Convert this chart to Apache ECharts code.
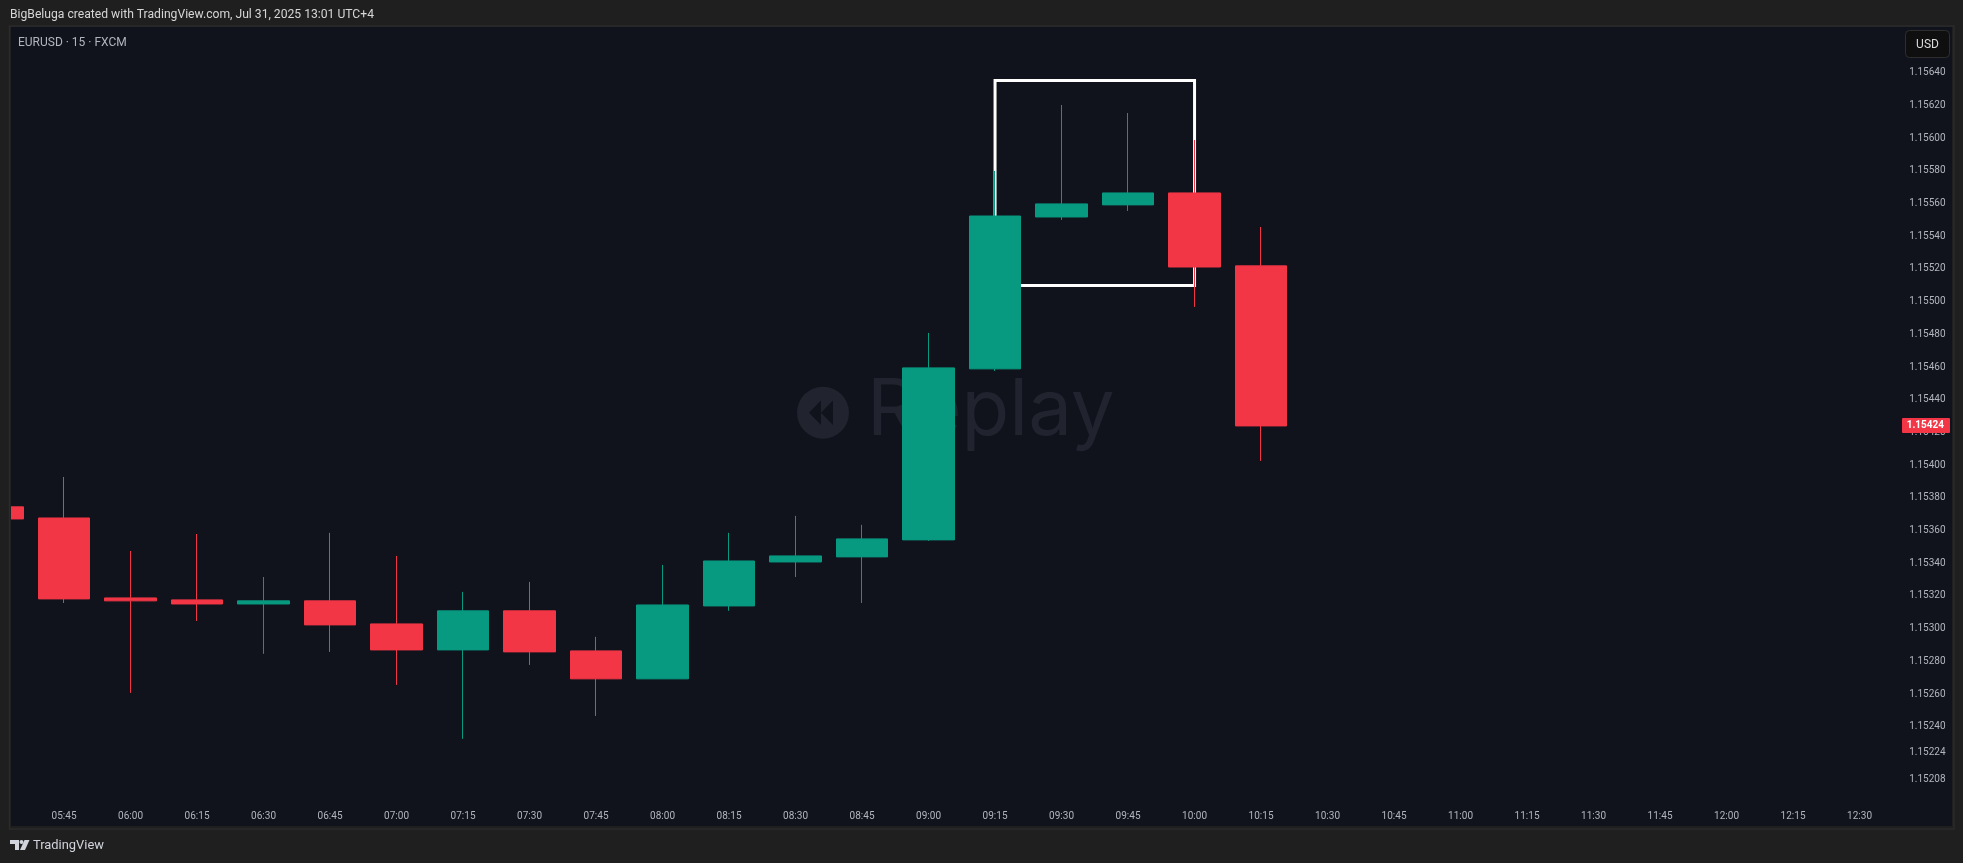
<!DOCTYPE html>
<html>
<head>
<meta charset="utf-8">
<style>html,body{margin:0;padding:0;background:#1f1f1f;overflow:hidden}#c{width:1963px;height:863px}</style>
<script src="https://cdn.jsdelivr.net/npm/echarts@6/dist/echarts.min.js"></script>
</head>
<body>
<div id="c"></div>
<script>
const times = ['05:30','05:45','06:00','06:15','06:30','06:45','07:00','07:15','07:30','07:45','08:00','08:15','08:30','08:45','09:00','09:15','09:30','09:45','10:00','10:15','10:30','10:45','11:00','11:15','11:30','11:45','12:00','12:15','12:30','12:45'];
const opens  = [1.153745,1.153677,1.153188,1.153176,1.153151,1.153170,1.153029,1.152870,1.153109,1.152864,1.152693,1.153139,1.153408,1.153439,1.153543,1.154589,1.155518,1.155592,1.155665,1.155219];
const closes = [1.153671,1.153182,1.153170,1.153151,1.153170,1.153023,1.152870,1.153109,1.152858,1.152693,1.153145,1.153414,1.153445,1.153549,1.154595,1.155524,1.155598,1.155665,1.155212,1.154240];
const lows   = [1.153600,1.153157,1.152607,1.153047,1.152846,1.152858,1.152656,1.152326,1.152778,1.152466,1.152693,1.153109,1.153316,1.153157,1.153537,1.154576,1.155500,1.155555,1.154968,1.154026];
const highs  = [1.153800,1.153928,1.153475,1.153579,1.153316,1.153586,1.153445,1.153225,1.153286,1.152950,1.153390,1.153586,1.153690,1.153635,1.154809,1.155800,1.156203,1.156154,1.155989,1.155457];
const priceTicks = [1.15208,1.15224,1.1524,1.1526,1.1528,1.153,1.1532,1.1534,1.1536,1.1538,1.154,1.1542,1.1544,1.1546,1.1548,1.155,1.1552,1.1554,1.1556,1.1558,1.156,1.1562,1.1564];
const boxTop = 1.156353, boxBottom = 1.155099, boxFrom = '09:15', boxTo = '10:00';
const lastPrice = closes[closes.length-1];
const candles = opens.map((o,i)=>[o,closes[i],lows[i],highs[i]]);

const UP='#089981', DOWN='#F23645', PANE='#10131c', OUTER='#1f1f1f', EDGE='#2b2b2b', WM='#21232e';
const F='Roboto, sans-serif';
const chart = echarts.init(document.getElementById('c'),null,{renderer:'canvas'});
chart.setOption({
  animation:false,
  backgroundColor:OUTER,
  grid:{left:-35.7,width:1995,top:27,height:799,containLabel:false,outerBoundsMode:'none'},
  xAxis:{type:'category',data:times,boundaryGap:true,
    axisLine:{show:false},axisTick:{show:false},splitLine:{show:false},
    axisLabel:{inside:true,margin:5,color:'#b2b5be',fontSize:10,fontFamily:F,
      interval:(i)=>i>0&&i<times.length-1}},
  yAxis:{type:'value',position:'right',min:1.151793,max:1.15668,scale:true,
    axisLine:{show:false},axisTick:{show:false},splitLine:{show:false},
    axisLabel:{inside:true,margin:13.8,color:'#b2b5be',fontSize:10,fontFamily:F,
      customValues:priceTicks,padding:[0,0,2,0],formatter:(v)=>v.toFixed(5)}},
  series:[{type:'candlestick',data:candles,barWidth:52,z:3,
    itemStyle:{color:UP,color0:DOWN,borderColor:UP,borderColor0:DOWN,borderWidth:1},
    markArea:{silent:true,z:1,itemStyle:{color:'rgba(0,0,0,0)',borderColor:'#ffffff',borderWidth:3},
      data:[[{xAxis:boxFrom,yAxis:boxTop},{xAxis:boxTo,yAxis:boxBottom}]]}}],
  graphic:[
    {type:'rect',z:-5,shape:{x:11,y:27,width:1941,height:799},style:{fill:PANE},silent:true},
    {type:'circle',z:-4,shape:{cx:823,cy:412.7,r:26},style:{fill:WM},silent:true},
    {type:'polygon',z:-3,shape:{points:[[809,412.7],[821,400.5],[821,425]]},style:{fill:PANE},silent:true},
    {type:'polygon',z:-3,shape:{points:[[821,412.7],[833,400.5],[833,425]]},style:{fill:PANE},silent:true},
    {type:'text',z:-4,x:867,y:412,silent:true,style:{text:'Replay',fill:WM,font:'400 78px Inter, '+F,textVerticalAlign:'middle'}},
    // frame
    {type:'rect',z:50,shape:{x:0,y:0,width:11,height:863},style:{fill:OUTER},silent:true},
    {type:'rect',z:51,shape:{x:9.5,y:26,width:1944.5,height:803},style:{fill:'none',stroke:EDGE,lineWidth:1.5},silent:true},
    {type:'rect',z:50,shape:{x:1954,y:0,width:9,height:863},style:{fill:OUTER},silent:true},
    // header
    {type:'text',z:60,x:10,y:15,silent:true,style:{text:'BigBeluga created with TradingView.com, Jul 31, 2025 13:01 UTC+4',fill:'#d6d6d6',font:'12.15px '+F,textVerticalAlign:'middle'}},
    {type:'text',z:60,x:18,y:42.5,silent:true,style:{text:'EURUSD · 15 · FXCM',fill:'#b2b5be',font:'12px '+F,textVerticalAlign:'middle'}},
    // USD
    {type:'rect',z:60,shape:{x:1905.5,y:30.5,width:44,height:27,r:4},style:{fill:'#0f0f0f',stroke:'#2e2e2e',lineWidth:1},silent:true},
    {type:'text',z:61,x:1927.5,y:44.5,silent:true,style:{text:'USD',fill:'#dbdbdb',font:'12px '+F,textAlign:'center',textVerticalAlign:'middle'}},
    // logo
    {type:'polygon',z:60,shape:{points:[[10,840],[19,840],[19,850],[15,850],[15,844],[10,844]]},style:{fill:'#d1d4dc'},silent:true},
    {type:'circle',z:60,shape:{cx:21.5,cy:842,r:2},style:{fill:'#d1d4dc'},silent:true},
    {type:'polygon',z:60,shape:{points:[[24.5,840],[29.5,840],[25,850],[20,850]]},style:{fill:'#d1d4dc'},silent:true},
    {type:'text',z:60,x:33,y:846,silent:true,style:{text:'TradingView',fill:'#d1d4dc',font:'12.9px '+F,textVerticalAlign:'middle'}}
  ]
});
const tagY = chart.convertToPixel({yAxisIndex:0}, lastPrice) - 1;
chart.setOption({graphic:[
  {id:'tagBox',type:'rect',z:70,shape:{x:1902,y:Math.round(tagY-7),width:48,height:15,r:1},style:{fill:DOWN},silent:true},
  {id:'tagText',type:'text',z:71,x:1944,y:Math.round(tagY-7)+7.5,silent:true,style:{text:lastPrice.toFixed(5),fill:'#ffffff',font:'bold 10px '+F,textAlign:'right',textVerticalAlign:'middle'}}
]});
</script>
</body>
</html>
